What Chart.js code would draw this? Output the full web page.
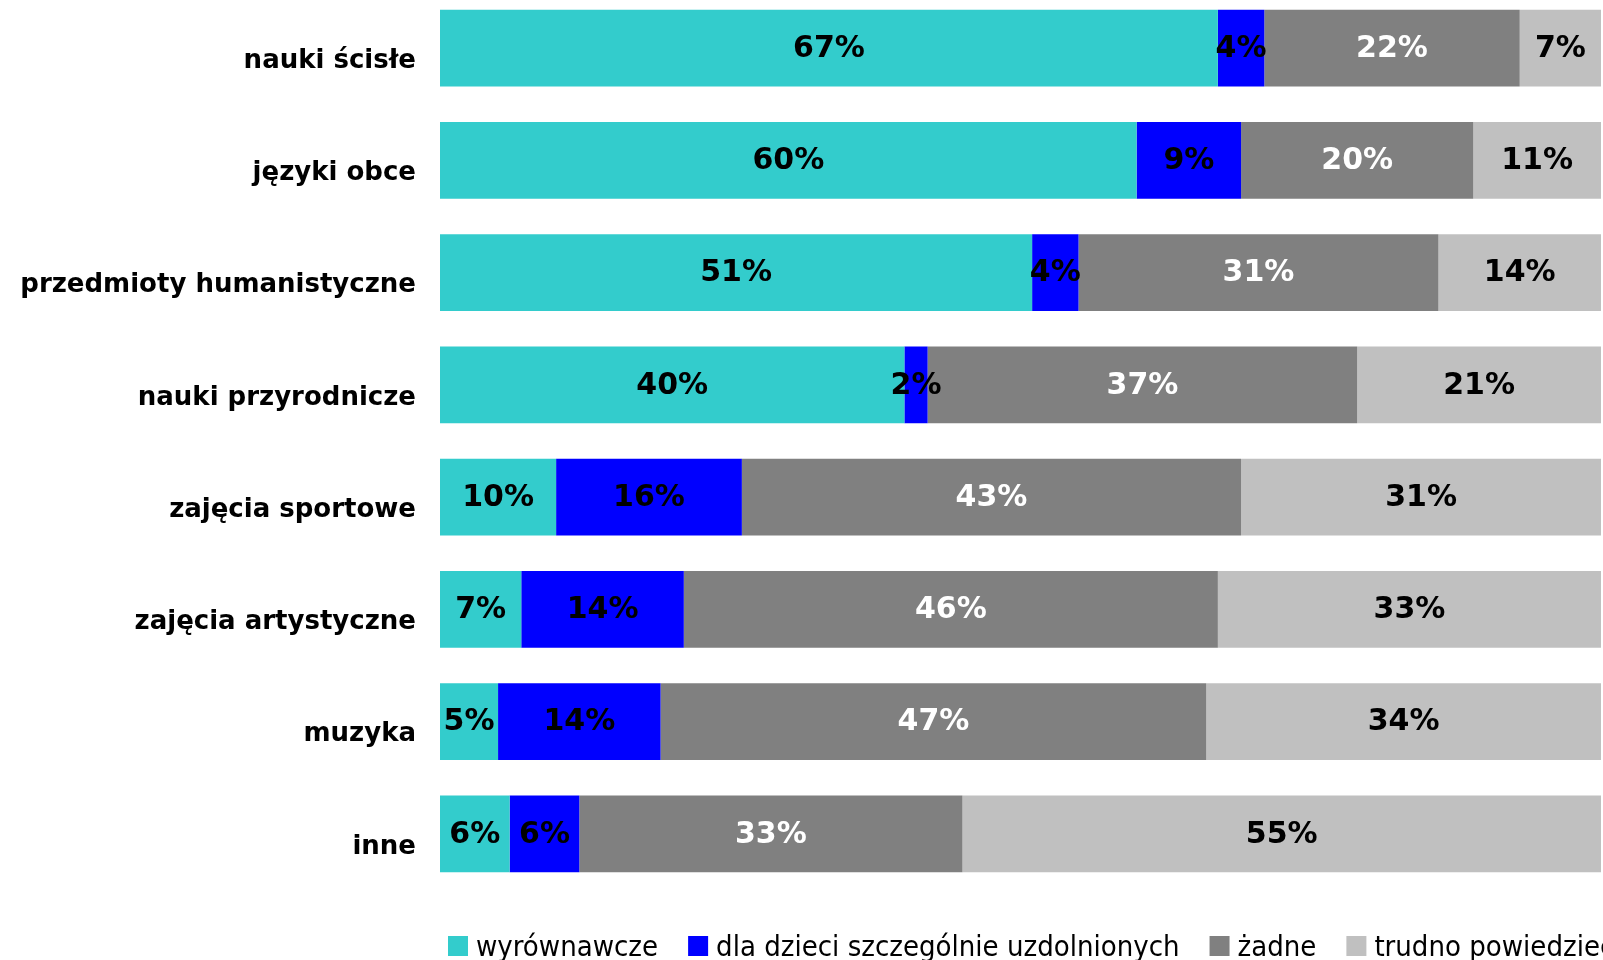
<!DOCTYPE html>
<html>
<head>
<meta charset="utf-8">
<script src="https://cdn.jsdelivr.net/npm/chart.js@4.4.1/dist/chart.umd.min.js"></script>
<style>
  html, body { margin: 0; padding: 0; background: #fff; overflow: hidden; }
  #wrap { position: absolute; left: 0; top: -8px; width: 1603px; height: 976px; }
</style>
</head>
<body>
<div id="wrap"><canvas id="myChart"></canvas></div>
<script>
var categories = ['nauki ścisłe', 'języki obce', 'przedmioty humanistyczne', 'nauki przyrodnicze',
                  'zajęcia sportowe', 'zajęcia artystyczne', 'muzyka', 'inne'];
var wyrownawcze = [67, 60, 51, 40, 10, 7, 5, 6];
var uzdolnieni  = [4, 9, 4, 2, 16, 14, 14, 6];
var zadne       = [22, 20, 31, 37, 43, 46, 47, 33];
var trudno      = [7, 11, 14, 21, 31, 33, 34, 55];

// labels inside each segment
var segmentLabels = {
  id: 'segmentLabels',
  afterDatasetsDraw: function(chart) {
    var c = chart.ctx;
    c.save();
    c.font = 'bold 30px "DejaVu Sans"';
    c.textAlign = 'center';
    c.textBaseline = 'middle';
    chart.data.datasets.forEach(function(ds, i) {
      var meta = chart.getDatasetMeta(i);
      meta.data.forEach(function(bar, j) {
        c.fillStyle = ds.labelColor;
        c.fillText(ds.data[j] + '%', (bar.x + bar.base) / 2, bar.y + 1);
      });
    });
    c.restore();
  }
};

// legend along the bottom, starts left and runs off the right edge
var bottomLegend = {
  id: 'bottomLegend',
  afterDraw: function(chart) {
    var c = chart.ctx;
    c.save();
    c.font = '29px "DejaVu Sans Condensed"';
    c.textBaseline = 'alphabetic';
    c.textAlign = 'left';
    var x = 448;
    chart.data.datasets.forEach(function(ds) {
      c.fillStyle = ds.backgroundColor;
      c.fillRect(x, 944, 20, 20);
      c.fillStyle = '#000';
      c.fillText(ds.label, x + 28, 964);
      x += 28 + c.measureText(ds.label).width + 30;
    });
    c.restore();
  }
};

var ctx = document.getElementById('myChart').getContext('2d');
var myChart = new Chart(ctx, {
  type: 'bar',
  data: {
    labels: categories,
    datasets: [{
        label: 'wyrównawcze',
        data: wyrownawcze,
        backgroundColor: '#33CCCC',
        labelColor: '#000'
      }, {
        label: 'dla dzieci szczególnie uzdolnionych',
        data: uzdolnieni,
        backgroundColor: '#0000FF',
        labelColor: '#000'
      }, {
        label: 'żadne',
        data: zadne,
        backgroundColor: '#808080',
        labelColor: '#fff'
      }, {
        label: 'trudno powiedzieć',
        data: trudno,
        backgroundColor: '#C0C0C0',
        labelColor: '#000'
      }
    ]
  },
  options: {
    indexAxis: 'y',
    responsive: true,
    maintainAspectRatio: false,
    animation: false,
    datasets: {
      bar: { categoryPercentage: 1, barPercentage: 0.683, borderWidth: 0 }
    },
    layout: { padding: { top: 0, left: 0, right: 2, bottom: 78 } },
    plugins: {
      legend: { display: false },
      tooltip: { enabled: false }
    },
    scales: {
      x: {
        stacked: true,
        min: 0,
        max: 100,
        display: false
      },
      y: {
        stacked: true,
        grid: { display: false, drawTicks: false },
        border: { display: false },
        ticks: {
          color: '#000',
          padding: 24,
          labelOffset: 13,
          font: { family: 'DejaVu Sans', weight: 'bold', size: 26 }
        },
        afterFit: function(scale) {
          scale.width = 440;
          scale.paddingTop = 0;
          scale.paddingBottom = 0;
        }
      }
    }
  },
  plugins: [segmentLabels, bottomLegend]
});
</script>
</body>
</html>
